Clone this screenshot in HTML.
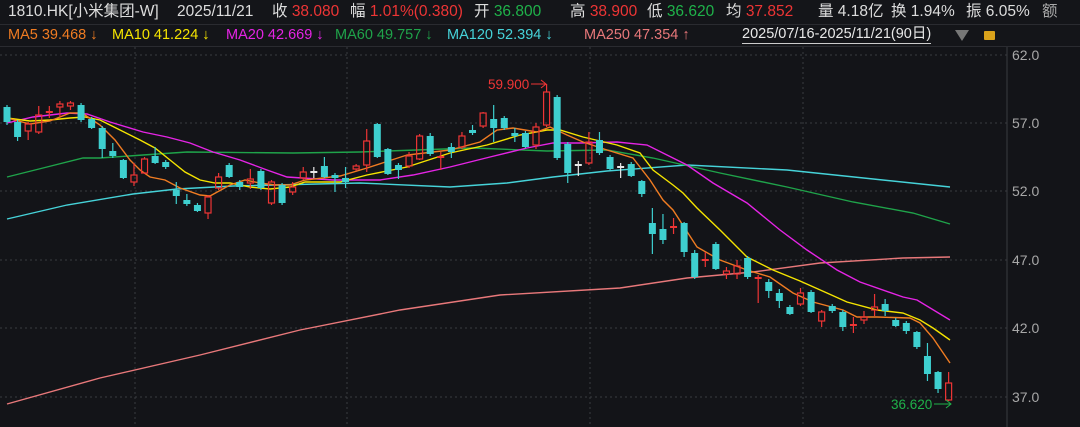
<!DOCTYPE html>
<html><head><meta charset="utf-8"><style>
html,body{margin:0;padding:0;background:#131418;}
body{width:1080px;height:427px;overflow:hidden;position:relative;font-family:"Liberation Sans","Noto Sans CJK SC",sans-serif;}
.r1{position:absolute;left:0;top:0;width:1080px;height:24px;background:#141519;color:#ddd;font-size:15.5px;line-height:24px;white-space:nowrap;border-bottom:1px solid #2a2b30;}
.r2{position:absolute;left:0;top:25px;width:1080px;height:21px;background:#141519;font-size:14.5px;line-height:21px;white-space:nowrap;border-bottom:1px solid #2a2b30;}
span{position:absolute;}
.red{color:#ee3535}.grn{color:#1fb24a}
</style></head><body>
<div class="r1">
<span style="left:8px">1810.HK[小米集团-W]</span>
<span style="left:177px">2025/11/21</span>
<span style="left:272px">收 <b class="red" style="font-weight:normal">38.080</b></span>
<span style="left:350px">幅 <b class="red" style="font-weight:normal">1.01%(0.380)</b></span>
<span style="left:474px">开 <b class="grn" style="font-weight:normal">36.800</b></span>
<span style="left:570px">高 <b class="red" style="font-weight:normal">38.900</b></span>
<span style="left:647px">低 <b class="grn" style="font-weight:normal">36.620</b></span>
<span style="left:726px">均 <b class="red" style="font-weight:normal">37.852</b></span>
<span style="left:818px">量 4.18亿</span>
<span style="left:891px">换 1.94%</span>
<span style="left:966px">振 6.05%</span>
<span style="left:1042px;color:#aaa">额</span>
</div>
<div class="r2">
<span style="left:8px;color:#f07c22">MA5 39.468 ↓</span>
<span style="left:112px;color:#f5e400">MA10 41.224 ↓</span>
<span style="left:226px;color:#e524e5">MA20 42.669 ↓</span>
<span style="left:335px;color:#1fa34a">MA60 49.757 ↓</span>
<span style="left:447px;color:#46d3d9">MA120 52.394 ↓</span>
<span style="left:584px;color:#e8787a">MA250 47.354 ↑</span>
<span style="left:742px;color:#e8e8e8;border-bottom:1px solid #ccc;line-height:18px">2025/07/16-2025/11/21(90日)</span>
<span style="left:955px;top:5px;width:0;height:0;border-left:7px solid transparent;border-right:7px solid transparent;border-top:11px solid #777"></span>
<span style="left:984px;top:6px;width:11px;height:9px;background:#d9a21b;border-radius:1px"></span>
</div>
<svg id="c" width="1080" height="427" style="position:absolute;left:0;top:0" xmlns="http://www.w3.org/2000/svg"></svg>
<script>
var s='';
s+='<line x1="1007" y1="47" x2="1007" y2="427" stroke="#3a3b40"/>';
var ys=[55,123,191,260,328,397],lb=['62.0','57.0','52.0','47.0','42.0','37.0'];
for(var i=0;i<6;i++){s+='<line x1="0" y1="'+ys[i]+'" x2="1007" y2="'+ys[i]+'" stroke="#3a3b40" stroke-dasharray="2,3"/>';
s+='<text x="1012" y="'+(ys[i]+5)+'" fill="#a8a8a8" font-size="14" font-family="Liberation Sans">'+lb[i]+'</text>';}
[135,347,590,803].forEach(function(x){s+='<line x1="'+x+'" y1="47" x2="'+x+'" y2="427" stroke="#3a3b40" stroke-dasharray="2,3"/>';});
function pl(p,c){s+='<polyline fill="none" stroke="'+c+'" stroke-width="1.4" points="'+p+'"/>';}
pl("7,404 100,378 200,355 300,330 400,310 500,295 620,288 687,278 753,272 820,263 903,258 950,257","#e8787a");
pl("7,219 67,205 133,194 177,189 233,186 360,183 450,187 507,183 553,177 607,171 687,165 787,170 950,187","#46d3d9");
pl("7,177 43,168 83,158 100,158 143,155 187,152 293,153 360,152 473,148 547,151 607,150 653,158 720,173 787,187 853,202 913,213 950,224","#1fa34a");
pl("7,123 33,117 67,113 87,114 110,122 143,132 167,137 190,143 213,152 240,160 267,170 287,177 333,180 380,180 413,175 450,167 490,157 527,148 553,143 580,143 617,142 647,145 687,165 713,183 747,203 780,230 807,250 837,270 860,282 903,297 917,300 950,320","#e524e5");
pl("7,118 30,121 50,120 70,118 85,117 100,120 120,130 140,140 155,148 170,160 185,172 200,180 215,183 230,183 250,187 270,189 290,187 305,182 340,182 367,175 407,167 450,153 487,145 520,135 547,130 560,130 583,137 617,145 640,153 653,170 673,185 683,193 697,208 720,230 747,257 773,270 800,281 827,293 847,302 877,310 903,313 920,320 933,328 950,340","#f5e400");
pl("7,118 30,124 50,121 70,113 82,113 100,125 115,140 130,160 140,170 150,177 165,180 180,188 200,195 210,196 230,185 245,180 260,183 275,185 290,185 305,180 340,176 367,168 407,155 450,150 480,142 497,130 513,128 537,132 550,127 567,135 583,142 607,150 633,158 650,180 663,200 673,210 697,247 720,260 747,270 770,277 793,293 813,302 843,310 857,317 877,317 910,318 920,323 933,338 950,363","#f07c22");
var d=[
"d 107 122 105 125","d 122 137 120 141","u 124 131 122 140","u 115 132 106 134","u 111 113 106 118","u 104 107 101 117","u 103 106 101 110","d 105 120 103 122","d 119 128 117 129","d 128 149 126 158",
"d 151 156 143 158","d 160 178 159 179","u 175 182 163 186","u 159 173 157 174","d 156 163 147 164","d 162 167 160 169","d 190 196 182 204","d 200 204 194 206","d 205 211 203 212","u 197 213 195 219",
"u 177 188 173 190","d 165 177 163 178","d 182 187 180 190","u 179 183 169 189","d 171 188 169 190","u 182 203 180 205","d 185 203 183 205","u 187 192 182 195","u 172 178 167 180","w 171 173 167 178",
"d 166 177 157 178","d 175 178 173 192","d 178 182 167 188","u 166 169 164 171","u 141 165 129 172","d 124 157 123 158","d 149 174 148 175","d 165 170 163 179","u 156 166 152 168","u 136 159 134 160",
"d 136 154 133 156","u 156 158 152 170","d 147 152 143 158","u 136 147 132 149","d 130 133 125 135","u 113 126 112 128","d 119 128 105 142","d 118 128 116 130","d 133 136 128 142","d 133 147 131 148",
"u 127 145 123 149","u 92 125 84 127","d 97 158 95 160","d 144 173 142 183","w 164 166 161 176","u 142 163 132 165","d 140 153 132 155","d 157 169 155 170","w 166 168 163 178","d 164 176 162 177",
"d 181 194 180 197","d 223 234 208 254","d 229 240 214 244","u 226 228 218 234","d 223 252 222 257","d 253 277 250 279","u 259 261 252 267","d 244 269 242 270","u 271 274 267 279","u 266 274 260 279",
"d 258 277 256 279","u 277 279 275 303","d 282 291 279 298","d 293 301 289 308","d 307 314 305 315","u 293 304 288 306","d 292 312 290 313","u 312 321 310 327","d 306 311 304 313","d 312 327 310 331",
"u 324 326 317 333","u 317 320 311 324","u 307 310 294 316","d 304 311 299 316","d 320 326 318 327","d 323 331 321 334","d 332 347 331 349","d 356 374 343 381","d 372 389 371 393","u 383 400 372 401"];
for(var i=0;i<d.length;i++){var a=d[i].split(' '),t=a[0],bt=+a[1],bb=+a[2],h=+a[3],l=+a[4],x=7+i*10.58;
var c=t=='d'?'#3ecfcf':(t=='w'?'#e8e8e8':'#ee3535');
if(bb-bt<3){s+='<line x1="'+x+'" y1="'+h+'" x2="'+x+'" y2="'+l+'" stroke="'+c+'" stroke-width="1.2"/>';s+='<rect x="'+(x-3.5)+'" y="'+bt+'" width="7" height="'+Math.max(1.5,bb-bt)+'" fill="'+c+'"/>';continue;}
if(t=='d'){s+='<line x1="'+x+'" y1="'+h+'" x2="'+x+'" y2="'+l+'" stroke="'+c+'" stroke-width="1.2"/><rect x="'+(x-3.5)+'" y="'+bt+'" width="7" height="'+(bb-bt)+'" fill="'+c+'"/>';}
else{s+='<line x1="'+x+'" y1="'+h+'" x2="'+x+'" y2="'+bt+'" stroke="'+c+'" stroke-width="1.2"/><line x1="'+x+'" y1="'+bb+'" x2="'+x+'" y2="'+l+'" stroke="'+c+'" stroke-width="1.2"/><rect x="'+(x-3)+'" y="'+bt+'" width="6" height="'+(bb-bt)+'" fill="none" stroke="'+c+'" stroke-width="1.2"/>';}}
s+='<text x="488" y="89" fill="#ee3535" font-size="13.5" font-family="Liberation Sans">59.900</text><path d="M531 84 H546 M541 80 L546 84 L541 88" stroke="#ee3535" fill="none"/>';
s+='<text x="891" y="409" fill="#1fb24a" font-size="13.5" font-family="Liberation Sans">36.620</text><path d="M934 404 H951 M946 400 L951 404 L946 408" stroke="#1fb24a" fill="none"/>';
document.getElementById('c').innerHTML=s;
</script>
</body></html>
